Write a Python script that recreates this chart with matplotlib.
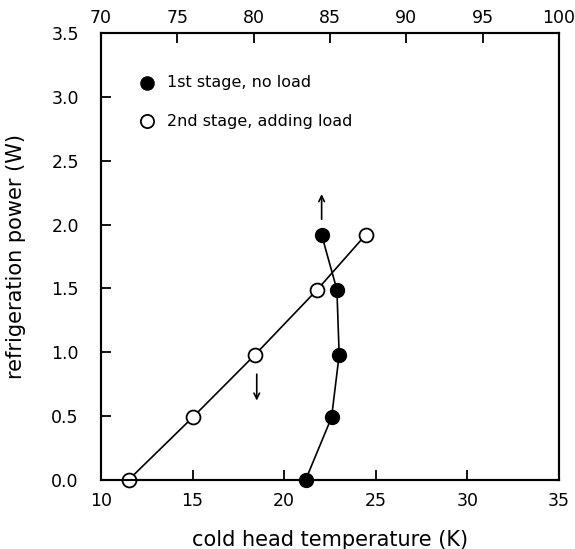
import matplotlib.pyplot as plt

# 2nd stage, adding load (bottom axis, K)
t2 = [11.5, 15.0, 18.4, 21.8, 24.45]
p2 = [0.0, 0.49, 0.98, 1.49, 1.92]

# 1st stage, no load (top axis, K)
t1 = [83.4, 85.1, 85.6, 85.45, 84.45]
p1 = [0.0, 0.49, 0.98, 1.49, 1.92]

xticks_bottom = [10, 15, 20, 25, 30, 35]
xticks_top = [70, 75, 80, 85, 90, 95, 100]
yticks = [0.0, 0.5, 1.0, 1.5, 2.0, 2.5, 3.0, 3.5]

fig = plt.figure(figsize=(5.75, 5.49), dpi=100)
ax = fig.add_axes([0.1757, 0.1257, 0.7965, 0.8142])

ax.plot(t2, p2, '-', color='black', lw=1.2, marker='o', ms=10,
        mfc='white', mec='black', mew=1.3, zorder=3, clip_on=False)
ax.set_xlim(10, 35)
ax.set_ylim(0, 3.5)
ax.set_xticks(xticks_bottom)
ax.set_yticks(yticks)
ax.set_yticklabels(['%.1f' % v for v in yticks])
ax.tick_params(direction='in', length=7, width=1.3, labelsize=12.5)
ax.tick_params(axis='x', pad=9)
ax.tick_params(axis='y', pad=16)
ax.set_xlabel('cold head temperature (K)', fontsize=15, labelpad=14)
ax.set_ylabel('refrigeration power (W)', fontsize=15, labelpad=18)

ax2 = ax.twiny()
ax2.plot(t1, p1, '-', color='black', lw=1.2, marker='o', ms=10,
         mfc='black', mec='black', zorder=3, clip_on=False)
ax2.set_xlim(70, 100)
ax2.set_xticks(xticks_top)
ax2.tick_params(direction='in', length=7, width=1.3, labelsize=12.5, pad=4)

for a in (ax, ax2):
    for s in a.spines.values():
        s.set_linewidth(1.5)

# arrows pointing to the axis each curve belongs to
ax2.annotate('', xy=(84.45, 2.26), xytext=(84.45, 2.02),
             arrowprops=dict(arrowstyle='->', color='black', lw=1.2))
ax.annotate('', xy=(18.5, 0.6), xytext=(18.5, 0.85),
            arrowprops=dict(arrowstyle='->', color='black', lw=1.2))

# legend drawn as markers with text
ax.plot([12.5], [3.11], 'o', ms=9.5, mfc='black', mec='black')
ax.plot([12.5], [2.81], 'o', ms=9.5, mfc='white', mec='black', mew=1.3)
ax.text(13.6, 3.11, '1st stage, no load', fontsize=11.5, va='center')
ax.text(13.6, 2.81, '2nd stage, adding load', fontsize=11.5, va='center')

fig.savefig('out.png', dpi=100)
